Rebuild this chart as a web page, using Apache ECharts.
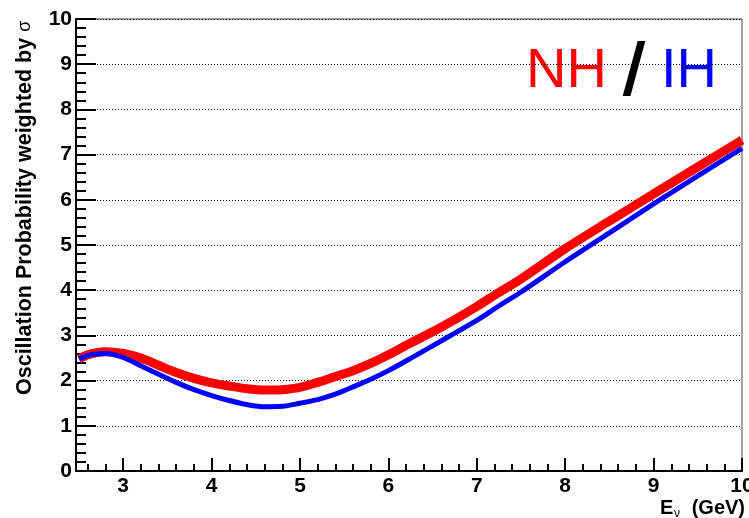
<!DOCTYPE html>
<html>
<head>
<meta charset="utf-8">
<script src="https://cdn.jsdelivr.net/npm/echarts@6/dist/echarts.min.js"></script>
<style>html,body{margin:0;padding:0;background:#fff}#c{width:749px;height:518px}</style>
</head>
<body>
<div id="c"></div>
<script>
// Neutrino energy (GeV)
var energy = [2.5,2.6,2.7,2.8,2.9,3.0,3.2,3.4,3.6,3.8,4.0,4.2,4.4,4.6,4.8,5.0,5.2,5.4,5.6,5.8,6.0,6.25,6.5,6.75,7.0,7.25,7.5,8.0,8.5,9.0,9.5,10.0];
// Normal hierarchy (red)
var nhValues = [2.48,2.57,2.62,2.64,2.63,2.60,2.50,2.34,2.18,2.05,1.95,1.88,1.82,1.79,1.80,1.85,1.96,2.09,2.22,2.38,2.57,2.83,3.08,3.35,3.64,3.95,4.25,4.92,5.53,6.13,6.73,7.32];
// Inverted hierarchy (blue)
var ihValues = [2.48,2.56,2.59,2.60,2.57,2.51,2.33,2.14,1.96,1.80,1.67,1.56,1.47,1.42,1.43,1.50,1.58,1.70,1.86,2.03,2.22,2.49,2.77,3.05,3.33,3.65,3.96,4.63,5.27,5.91,6.53,7.14];
// Axis ticks
var xMajorTicks = [3,4,5,6,7,8,9,10];
var xMinorTicks = [];
for (var t = 26; t < 100; t += 2) { if (t % 10 !== 0) xMinorTicks.push(t / 10); }
var xMin = 2.466, xMax = 10;
var yMin = 0, yMax = 10, yStep = 1;

var FONT = 'Liberation Sans, Arial, sans-serif';
function zip(xs, ys) { return xs.map(function (x, i) { return [x, ys[i]]; }); }

var chart = echarts.init(document.getElementById('c'), null, {renderer: 'canvas'});
chart.setOption({
  animation: false,
  backgroundColor: '#fff',
  grid: {left: 76, right: 7, top: 19, bottom: 47, show: true, borderColor: '#444', borderWidth: 1,
         containLabel: false, outerBoundsMode: 'none'},
  xAxis: [{
    type: 'value', min: xMin, max: xMax, position: 'bottom',
    axisLine: {show: true, onZero: false, lineStyle: {color: '#000', width: 2}},
    axisTick: {show: true, inside: true, length: 13, customValues: xMajorTicks, lineStyle: {color: '#000', width: 2}},
    axisLabel: {show: true, customValues: xMajorTicks, margin: 5, color: '#000', fontFamily: FONT, fontWeight: 'bold', fontSize: 21, hideOverlap: false},
    splitLine: {show: false}
  }, {
    type: 'value', min: xMin, max: xMax, position: 'bottom',
    axisLine: {show: false},
    axisTick: {show: true, inside: true, length: 7, customValues: xMinorTicks, lineStyle: {color: '#000', width: 2}},
    axisLabel: {show: false},
    splitLine: {show: false}
  }],
  yAxis: {
    type: 'value', min: yMin, max: yMax, interval: yStep,
    axisLine: {show: true, lineStyle: {color: '#000', width: 2}},
    axisTick: {show: true, inside: true, length: 20, lineStyle: {color: '#000', width: 2}},
    minorTick: {show: true, splitNumber: 5, length: 10, lineStyle: {color: '#000', width: 2}},
    axisLabel: {margin: 4, color: '#000', fontFamily: FONT, fontWeight: 'bold', fontSize: 21},
    splitLine: {show: true, lineStyle: {color: '#000', width: 1, type: [1, 2]}}
  },
  series: [{
    type: 'line', name: 'NH', xAxisIndex: 0, data: zip(energy, nhValues), smooth: 0.3, showSymbol: false,
    lineStyle: {color: '#ff0000', width: 9}, itemStyle: {color: '#ff0000'}
  }, {
    type: 'line', name: 'IH', xAxisIndex: 0, data: zip(energy, ihValues), smooth: 0.3, showSymbol: false,
    lineStyle: {color: '#0000ff', width: 5}, itemStyle: {color: '#0000ff'}
  }],
  graphic: [
    {type: 'text', x: 25, y: 395, rotation: Math.PI / 2, style: {
      text: '{b|Oscillation Probability weighted by }{s|σ}', align: 'left', verticalAlign: 'middle',
      rich: {b: {fontFamily: FONT, fontWeight: 'bold', fontSize: 21.5, fill: '#000'},
             s: {fontFamily: FONT, fontSize: 18, fill: '#000'}}}},
    {type: 'text', x: 660, y: 508, style: {text: 'E', align: 'left', verticalAlign: 'middle', font: 'bold 20px ' + FONT, fill: '#000'}},
    {type: 'text', x: 674, y: 514, style: {text: 'ν', align: 'left', verticalAlign: 'middle', font: '12px ' + FONT, fill: '#000'}},
    {type: 'text', x: 745, y: 508, style: {text: '(GeV)', align: 'right', verticalAlign: 'middle', font: 'bold 20px ' + FONT, fill: '#000'}},
    {type: 'text', x: 526, y: 72, style: {text: 'NH', align: 'left', verticalAlign: 'middle', font: '56px ' + FONT, fill: '#ff0000'}},
    {type: 'text', x: 634, y: 74, style: {text: '/', align: 'center', verticalAlign: 'middle', font: '72px ' + FONT, fill: '#000', stroke: '#000', lineWidth: 2}},
    {type: 'text', x: 661, y: 72, style: {text: 'IH', align: 'left', verticalAlign: 'middle', font: '56px ' + FONT, fill: '#0000ff'}}
  ]
});
</script>
</body>
</html>
